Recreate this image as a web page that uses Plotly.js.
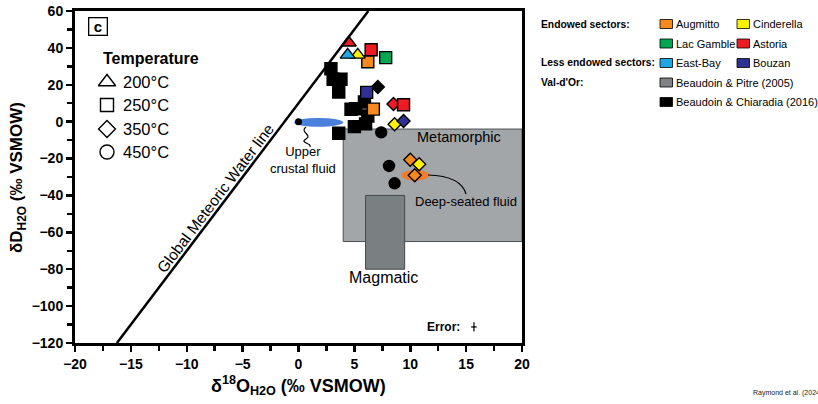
<!DOCTYPE html>
<html>
<head>
<meta charset="utf-8">
<script src="https://cdn.plot.ly/plotly-3.0.1.min.js"></script>
<style>
  html, body { margin: 0; padding: 0; background: #ffffff; }
  #chart { width: 818px; height: 404px; }
</style>
</head>
<body>
<div id="chart"></div>
<script>
// Fluid isotope compositions: δ18O (x) and δD (y), with formation temperature (°C)
const augmittoX = [6.2, 6.7, 10.0, 10.4];
const augmittoY = [32.5, 6.8, -20.6, -29.0];
const augmittoT = [250, 250, 350, 350];

const cinderellaX = [5.3, 8.6, 10.8];
const cinderellaY = [36.2, -1.4, -23.1];
const cinderellaT = [200, 350, 350];

const lacGambleX = [7.8];
const lacGambleY = [34.7];
const lacGambleT = [250];

const astoriaX = [4.5, 6.5, 8.5, 9.4];
const astoriaY = [42.8, 39.0, 9.6, 9.2];
const astoriaT = [200, 250, 350, 250];

const eastBayX = [4.4];
const eastBayY = [36.2];
const eastBayT = [200];

const bouzanX = [6.1, 9.4];
const bouzanY = [15.9, 0.4];
const bouzanT = [250, 350];

const chiaradiaX = [2.9, 3.1, 3.8, 3.6, 5.9, 4.7, 5.1, 6.2, 6.0, 5.0, 3.6, 7.1, 7.4, 8.1, 8.6];
const chiaradiaY = [28.7, 23.0, 23.0, 16.1, 10.7, 6.7, 7.0, 3.1, -1.2, -2.7, -6.3, 18.8, -5.8, -24.0, -33.4];
const chiaradiaT = [250, 250, 250, 250, 250, 250, 250, 250, 250, 250, 250, 350, 450, 450, 450];

// Reference fields
const metamorphicX = [4, 20];
const metamorphicY = [-65, -4];
const magmaticX = [6, 9.5];
const magmaticY = [-80, -40];
const upperCrustalX = [-0.4, 4.0];
const upperCrustalY = [-2.8, 2.0];
const upperCrustalPoint = [0, 0];
const deepSeatedX = [9.2, 11.7];
const deepSeatedY = [-32.0, -26.2];

// Global Meteoric Water Line: δD = 8·δ18O + 10
const gmwlSlope = 8;
const gmwlIntercept = 10;

const temperatures = [200, 250, 350, 450];
const temperatureLabels = ['200°C', '250°C', '350°C', '450°C'];

const errorX = 15.7, errorY = -111.3;
const errorD18O = 0.25, errorDD = 2.5;

// Legend entries on the right
const legendGroups = ['Endowed sectors:', 'Less endowed sectors:', 'Val-d\'Or:'];
const legendItems = [
  {name: 'Augmitto', color: '#f7891f'},
  {name: 'Cinderella', color: '#fff200'},
  {name: 'Lac Gamble', color: '#00a651'},
  {name: 'Astoria', color: '#ed1c24'},
  {name: 'East-Bay', color: '#1ea7e1'},
  {name: 'Bouzan', color: '#2e3192'},
  {name: 'Beaudoin & Pitre (2005)', color: '#808285'},
  {name: 'Beaudoin & Chiaradia (2016)', color: '#000000'}
];

const FONT = 'Liberation Sans, Arial, Helvetica, sans-serif';
const symbolFor = {200: 'triangle-up', 250: 'square', 350: 'diamond', 450: 'circle'};
const sizeFor = {200: 13, 250: 12, 350: 10, 450: 11};

function series(name, xs, ys, ts, color) {
  return {
    type: 'scatter', mode: 'markers', name: name, x: xs, y: ys,
    cliponaxis: false, hoverinfo: 'skip',
    marker: {
      color: color, opacity: 1,
      symbol: ts.map(t => symbolFor[t]),
      size: ts.map(t => sizeFor[t]),
      line: {color: '#000000', width: 1.4}
    }
  };
}

// plot frame in pixels
const L = 75, R = 522, T = 11, B = 343;
const W = R - L, H = B - T;
const px = v => (v - L) / W;
const py = v => (B - v) / H;
const dx = v => -20 + (v - L) / W * 40;
const dy = v => 60 - (v - T) / H * 180;

const traces = [
  series('Beaudoin & Chiaradia (2016)', chiaradiaX, chiaradiaY, chiaradiaT, legendItems[7].color),
  series('Augmitto', augmittoX, augmittoY, augmittoT, legendItems[0].color),
  series('Cinderella', cinderellaX, cinderellaY, cinderellaT, legendItems[1].color),
  series('Lac Gamble', lacGambleX, lacGambleY, lacGambleT, legendItems[2].color),
  series('Astoria', astoriaX, astoriaY, astoriaT, legendItems[3].color),
  series('East-Bay', eastBayX, eastBayY, eastBayT, legendItems[4].color),
  series('Bouzan', bouzanX, bouzanY, bouzanT, legendItems[5].color),
  {
    type: 'scatter', mode: 'markers', x: [upperCrustalPoint[0]], y: [upperCrustalPoint[1]],
    marker: {color: '#000000', size: 7, opacity: 1}, hoverinfo: 'skip'
  },
  // temperature key
  {
    type: 'scatter', mode: 'markers',
    x: temperatures.map(() => dx(107)),
    y: [82, 105, 129, 152].map(dy),
    marker: {
      color: '#000000', opacity: 1,
      symbol: temperatures.map(t => symbolFor[t] + '-open'),
      size: [15, 13, 13, 14],
      line: {width: 1.4}
    },
    hoverinfo: 'skip'
  },
  // analytical error
  {
    type: 'scatter', mode: 'markers', x: [errorX], y: [errorY],
    marker: {size: 1, color: '#000000'},
    error_x: {type: 'data', array: [errorD18O], width: 0, thickness: 1.2, color: '#000000'},
    error_y: {type: 'data', array: [errorDD], width: 0, thickness: 1.2, color: '#000000'},
    hoverinfo: 'skip'
  }
];

const gmwlAt = y => (y - gmwlIntercept) / gmwlSlope;

const shapes = [
  {type: 'rect', xref: 'x', yref: 'y', layer: 'below',
   x0: metamorphicX[0], x1: metamorphicX[1], y0: metamorphicY[0], y1: metamorphicY[1],
   fillcolor: '#a2a6a8', line: {color: '#4d5052', width: 1}},
  {type: 'rect', xref: 'x', yref: 'y', layer: 'below',
   x0: magmaticX[0], x1: magmaticX[1], y0: magmaticY[0], y1: magmaticY[1],
   fillcolor: '#7a7f82', line: {color: '#45494b', width: 1}},
  {type: 'circle', xref: 'x', yref: 'y', layer: 'below',
   x0: upperCrustalX[0], x1: upperCrustalX[1], y0: upperCrustalY[0], y1: upperCrustalY[1],
   fillcolor: '#4a7fdc', line: {width: 0}},
  {type: 'circle', xref: 'x', yref: 'y', layer: 'below',
   x0: deepSeatedX[0], x1: deepSeatedX[1], y0: deepSeatedY[0], y1: deepSeatedY[1],
   fillcolor: '#f07c2c', line: {width: 0}},
  {type: 'line', xref: 'x', yref: 'y',
   x0: gmwlAt(-120), y0: -120, x1: gmwlAt(60), y1: 60,
   line: {color: '#000000', width: 2.5}},
  // leader from upper crustal field to its label
  {type: 'path', xref: 'x', yref: 'y',
   path: `M ${dx(306)},${dy(127)} C ${dx(299)},${dy(132)} ${dx(313)},${dy(135)} ${dx(306)},${dy(139)} S ${dx(312)},${dy(143)} ${dx(310)},${dy(147)}`,
   line: {color: '#000000', width: 1.2}},
  // leader from deep-seated field to its label
  {type: 'path', xref: 'x', yref: 'y',
   path: `M ${dx(428)},${dy(175)} Q ${dx(461)},${dy(176)} ${dx(466)},${dy(194)}`,
   line: {color: '#000000', width: 1.2}}
];

// legend swatches
const rowY = [24, 43.5, 63, 82.5, 102];
const colX = [660, 737];
const itemPos = [[0, 0], [0, 1], [1, 0], [1, 1], [2, 0], [2, 1], [3, 0], [4, 0]];
legendItems.forEach((it, i) => {
  const [r, c] = itemPos[i];
  shapes.push({type: 'rect', xref: 'paper', yref: 'paper',
    x0: px(colX[c]), x1: px(colX[c] + 12.5), y0: py(rowY[r] + 4.5), y1: py(rowY[r] - 4.5),
    fillcolor: it.color, line: {color: '#000000', width: 0.8}});
});

function note(o) {
  return Object.assign({showarrow: false, xanchor: 'center', yanchor: 'middle'}, o);
}

const annotations = [
  note({xref: 'paper', yref: 'paper', x: px(18), y: py(177), textangle: -90,
   text: 'δD<sub>H2O</sub> (‰ VSMOW)', font: {family: FONT, size: 17, weight: 'bold', color: '#000'}}),
  note({xref: 'paper', yref: 'paper', x: px(298), y: py(385),
   text: 'δ<sup>18</sup>O<sub>H2O</sub> (‰ VSMOW)', font: {family: FONT, size: 18, weight: 'bold', color: '#000'}}),
  note({xref: 'x', yref: 'y', x: dx(98), y: dy(26), text: 'c',
   bordercolor: '#000', borderwidth: 1.3, borderpad: 1, width: 15, height: 14,
   font: {family: FONT, size: 15, weight: 'bold', color: '#000'}}),
  note({xref: 'x', yref: 'y', x: dx(101), y: dy(58), xanchor: 'left', text: 'Temperature',
   font: {family: FONT, size: 16, weight: 'bold', color: '#000'}}),
  note({xref: 'x', yref: 'y', x: dx(459), y: dy(137), text: 'Metamorphic',
   font: {family: FONT, size: 14.5, color: '#000'}}),
  note({xref: 'x', yref: 'y', x: dx(383), y: dy(277), text: 'Magmatic',
   font: {family: FONT, size: 16, color: '#000'}}),
  note({xref: 'x', yref: 'y', x: dx(303), y: dy(160), text: 'Upper<br>crustal fluid',
   font: {family: FONT, size: 13, color: '#000'}}),
  note({xref: 'x', yref: 'y', x: dx(466), y: dy(201), text: 'Deep-seated fluid',
   font: {family: FONT, size: 13, color: '#000'}}),
  note({xref: 'x', yref: 'y', x: dx(215), y: dy(198), text: 'Global Meteoric Water line',
   textangle: -52.8, font: {family: FONT, size: 15.5, color: '#000'}}),
  note({xref: 'x', yref: 'y', x: dx(462), y: dy(327), xanchor: 'right', text: 'Error:',
   font: {family: FONT, size: 12, weight: 'bold', color: '#000'}}),
  note({xref: 'paper', yref: 'paper', x: px(751), y: py(393), xanchor: 'left',
   text: 'Raymond et al. (2024', font: {family: FONT, size: 7, color: '#222'}})
];

temperatureLabels.forEach((t, i) => {
  annotations.push(note({xref: 'x', yref: 'y', x: dx(121), y: dy([82, 105, 129, 152][i]), xanchor: 'left',
    text: t, font: {family: FONT, size: 16.5, color: '#000'}}));
});

legendGroups.forEach((g, i) => {
  annotations.push(note({xref: 'paper', yref: 'paper', x: px(539), y: py([24, 63, 82.5][i]), xanchor: 'left',
    text: g, font: {family: FONT, size: 10.3, weight: 'bold', color: '#000'}}));
});
legendItems.forEach((it, i) => {
  const [r, c] = itemPos[i];
  annotations.push(note({xref: 'paper', yref: 'paper', x: px(colX[c] + 13.5), y: py(rowY[r]), xanchor: 'left',
    text: it.name, font: {family: FONT, size: 11, color: '#000'}}));
});

const axisCommon = {
  showgrid: false, zeroline: false, showline: true, mirror: true,
  linecolor: '#000', linewidth: 3,
  ticks: 'outside', ticklen: 6, tickwidth: 2.5, tickcolor: '#000',
  tickfont: {family: FONT, size: 14, weight: 'bold', color: '#000'},
  fixedrange: true
};

const layout = {
  width: 818, height: 404,
  margin: {l: L, r: 818 - R, t: T, b: 404 - B, pad: 0},
  paper_bgcolor: '#ffffff', plot_bgcolor: '#ffffff',
  showlegend: false,
  xaxis: Object.assign({}, axisCommon, {
    range: [-20, 20], tick0: -20, dtick: 5,
    minor: {dtick: 2.5, ticks: 'outside', ticklen: 5, tickwidth: 2.5, tickcolor: '#000', showgrid: false}
  }),
  yaxis: Object.assign({}, axisCommon, {
    range: [-120, 60], tick0: -120, dtick: 20,
    minor: {dtick: 10, ticks: 'outside', ticklen: 5, tickwidth: 2.5, tickcolor: '#000', showgrid: false}
  }),
  shapes: shapes,
  annotations: annotations
};

Plotly.newPlot('chart', traces, layout, {staticPlot: true, displayModeBar: false});
</script>
</body>
</html>
